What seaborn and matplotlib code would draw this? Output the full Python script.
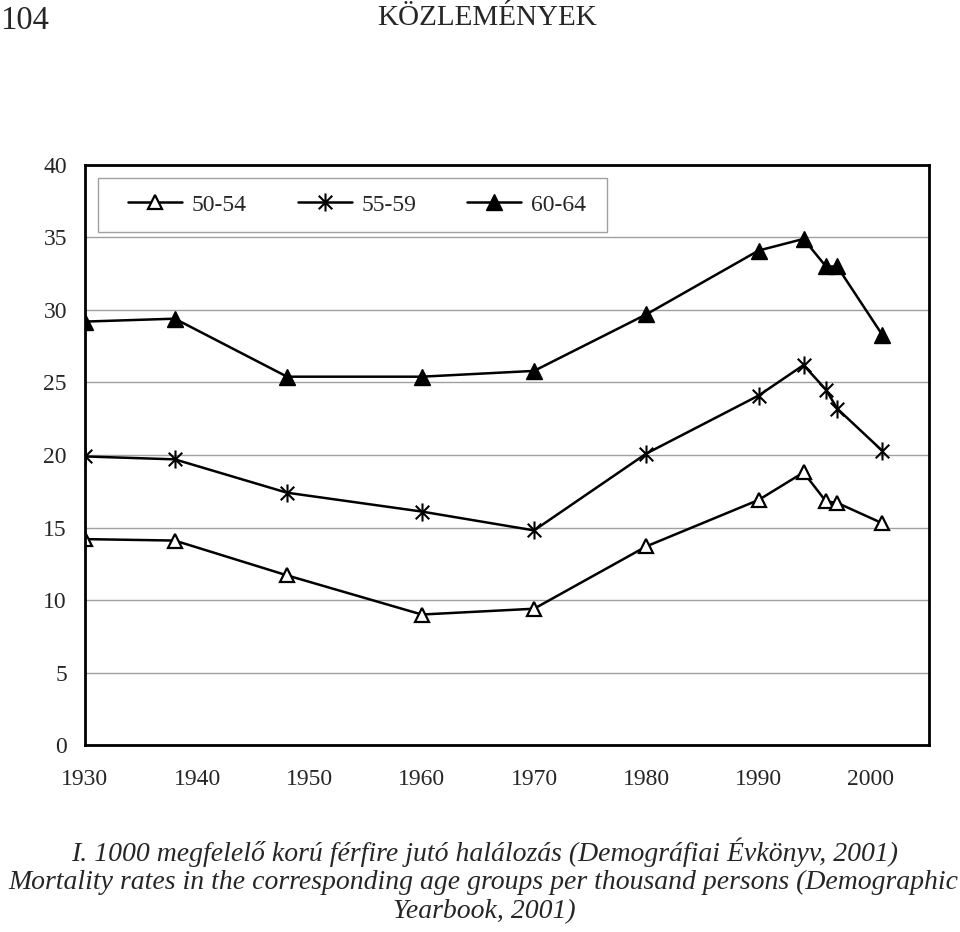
import numpy as np
import pandas as pd
import matplotlib
matplotlib.use("Agg")
import matplotlib.pyplot as plt
from matplotlib.path import Path
from matplotlib.lines import Line2D
from matplotlib.patches import Rectangle
import seaborn as sns

years = [1930, 1938, 1948, 1960, 1970, 1980, 1990, 1994, 1996, 1997, 2001]
s_50_54 = [14.2, 14.1, 11.7, 9.0, 9.4, 13.7, 16.9, 18.8, 16.8, 16.7, 15.3]
s_55_59 = [19.9, 19.7, 17.4, 16.1, 14.8, 20.1, 24.1, 26.2, 24.5, 23.2, 20.3]
s_60_64 = [29.2, 29.4, 25.4, 25.4, 25.8, 29.7, 34.1, 34.9, 33.0, 33.0, 28.3]
series_names = ["50-54", "55-59", "60-64"]
y_ticks = [0, 5, 10, 15, 20, 25, 30, 35, 40]
x_ticks = [1930, 1940, 1950, 1960, 1970, 1980, 1990, 2000]

sns.set_theme(style="white")
plt.rcParams["font.family"] = ["Liberation Serif", "DejaVu Serif"]

df = pd.DataFrame({
    "year": years * 3,
    "value": s_50_54 + s_55_59 + s_60_64,
    "group": sum([[n] * len(years) for n in series_names], []),
})

# asterisk marker: vertical line + X
star = Path(
    [(0, -1), (0, 1), (-0.75, -0.75), (0.75, 0.75), (-0.75, 0.75), (0.75, -0.75)],
    [Path.MOVETO, Path.LINETO, Path.MOVETO, Path.LINETO, Path.MOVETO, Path.LINETO],
)

styles = {
    "50-54": dict(marker="^", markersize=10, markerfacecolor="white",
                  markeredgecolor="black", markeredgewidth=1.6),
    "55-59": dict(marker=star, markersize=13, markerfacecolor="none",
                  markeredgecolor="black", markeredgewidth=1.5),
    "60-64": dict(marker="^", markersize=11, markerfacecolor="black",
                  markeredgecolor="black", markeredgewidth=1.0),
}

fig = plt.figure(figsize=(9.6, 9.32), dpi=100)
ax = fig.add_axes([0.0885, 0.2006, 0.8795, 0.6224])

for name in series_names:
    sub = df[df["group"] == name]
    sns.lineplot(data=sub, x="year", y="value", ax=ax, color="black",
                 linewidth=1.8, legend=False, **styles[name])

ax.set_xlim(1930, 2005.2)
ax.set_ylim(0, 40)
ax.set_yticks(y_ticks)
ax.set_xticks(x_ticks)
ax.set_xticks(np.arange(1935, 2006, 10), minor=True)
ax.set_xlabel("")
ax.set_ylabel("")
ax.yaxis.grid(True, color="#a0a0a0", linewidth=1.0)
ax.xaxis.grid(False)
for sp in ax.spines.values():
    sp.set_color("black")
    sp.set_linewidth(2.0)
ax.tick_params(axis="x", which="both", direction="inout", length=11,
               color="#909090", width=1.0, labelsize=17, pad=12)
ax.tick_params(axis="y", direction="out", length=5, color="#909090",
               width=1.0, labelsize=17, pad=8)
ax.set_axisbelow(True)

# legend frame (Excel-style box)
ax.add_patch(Rectangle((0.0154, 0.8845), 0.603, 0.0931, transform=ax.transAxes,
                       facecolor="white", edgecolor="#a0a0a0", linewidth=1.0, zorder=4))

handles = [Line2D([0], [0], color="black", linewidth=1.8, **styles[n]) for n in series_names]
leg = ax.legend(handles, series_names, loc="center left", bbox_to_anchor=(0.051, 0.931),
                ncol=3, frameon=False, fontsize=17, handlelength=2.3,
                handletextpad=0.4, columnspacing=2.15, borderpad=0, borderaxespad=0)
leg.set_zorder(5)

fig.text(0.0, 0.994, "104", fontsize=23.5, ha="left", va="top")
fig.text(0.507, 0.995, "KÖZLEMÉNYEK", fontsize=21, ha="center", va="top")

cap_kw = dict(fontsize=20, style="italic", ha="center", va="center")
fig.text(0.505, 1 - 852 / 932, "I. 1000 megfelelő korú férfire jutó halálozás (Demográfiai Évkönyv, 2001)", **cap_kw)
fig.text(0.503, 1 - 882 / 932, "Mortality rates in the corresponding age groups per thousand persons (Demographic", **cap_kw)
fig.text(0.505, 1 - 912 / 932, "Yearbook, 2001)", **cap_kw)

fig.savefig("out.png", dpi=100)
